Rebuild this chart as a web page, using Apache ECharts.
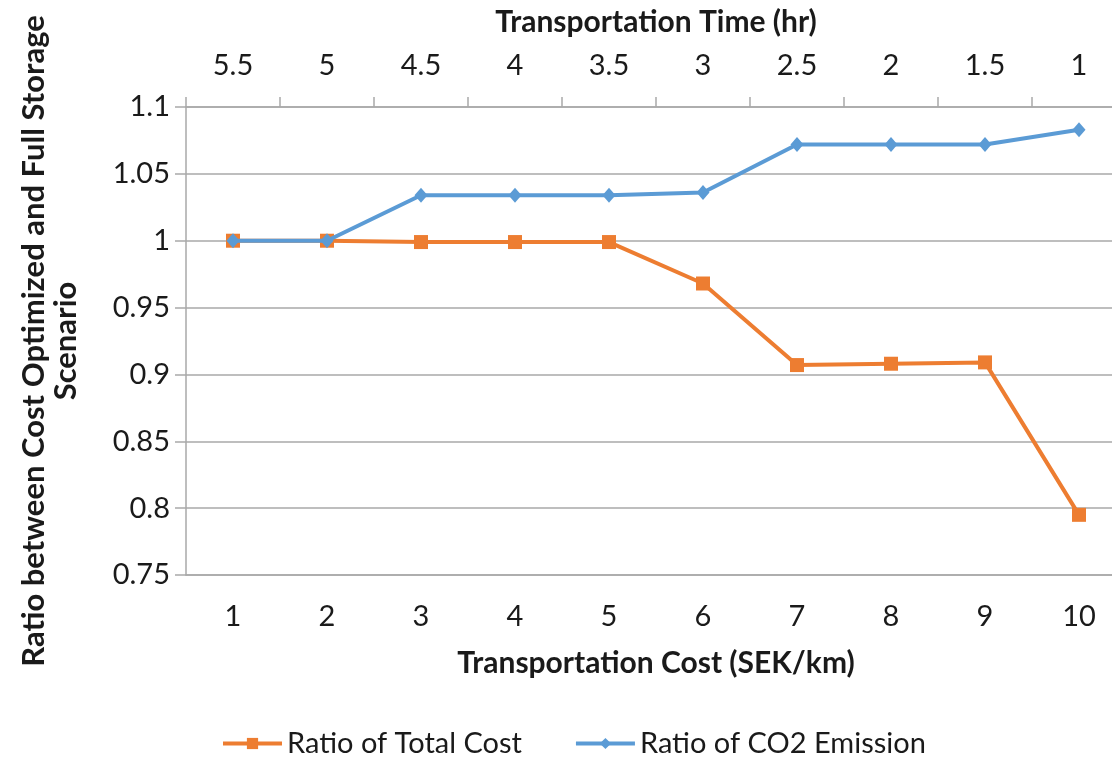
<!DOCTYPE html>
<html>
<head>
<meta charset="utf-8">
<script src="https://cdn.jsdelivr.net/npm/echarts@6/dist/echarts.min.js"></script>
<style>
  html, body { margin: 0; padding: 0; background: #fff; overflow: hidden; }
  #chart { width: 1126px; height: 761px; }
</style>
</head>
<body>
<div id="chart"></div>
<script>
// Transportation cost categories (bottom axis) and matching transport times (top axis)
const costCategories = ['1', '2', '3', '4', '5', '6', '7', '8', '9', '10'];
const timeLabels = ['5.5', '5', '4.5', '4', '3.5', '3', '2.5', '2', '1.5', '1'];

// Ratios between the cost-optimized and the full-storage scenario
const totalCostRatio = [1.000, 1.000, 0.999, 0.999, 0.999, 0.968, 0.907, 0.908, 0.909, 0.795];
const co2EmissionRatio = [1.000, 1.000, 1.034, 1.034, 1.034, 1.036, 1.072, 1.072, 1.072, 1.083];

const FONT = 'Lato';
const TEXT = '#1a1a1a';
const GRID = '#a9a9a9';

const chart = echarts.init(document.getElementById('chart'), null, { renderer: 'canvas' });

chart.setOption({
  animation: false,
  backgroundColor: '#ffffff',
  textStyle: { fontFamily: FONT, color: TEXT },
  // the plot runs a little past the right edge of the visible page
  grid: { left: 186, top: 107, right: 0, height: 468, containLabel: false },
  legend: {
    bottom: -2,
    left: 216,
    itemWidth: 59,
    itemHeight: 14,
    itemGap: 52,
    lineStyle: { width: 4 },
    textStyle: { fontFamily: FONT, fontSize: 29, color: TEXT },
    data: ['Ratio of Total Cost', 'Ratio of CO2 Emission']
  },
  xAxis: [
    {
      type: 'category',
      position: 'bottom',
      data: costCategories,
      boundaryGap: true,
      name: 'Transportation Cost (SEK/km)',
      nameLocation: 'middle',
      nameGap: 73,
      nameTextStyle: { fontFamily: FONT, fontSize: 30, fontWeight: 'bold', color: TEXT },
      axisLine: { show: true, lineStyle: { color: GRID, width: 1.5 } },
      axisTick: { show: false },
      axisLabel: { fontFamily: FONT, fontSize: 29, color: TEXT, margin: 27 },
      splitLine: { show: false }
    },
    {
      type: 'category',
      position: 'top',
      data: timeLabels,
      boundaryGap: true,
      name: 'Transportation Time (hr)',
      nameLocation: 'middle',
      nameGap: 70,
      nameTextStyle: { fontFamily: FONT, fontSize: 30, fontWeight: 'bold', color: TEXT },
      axisLine: { show: true, lineStyle: { color: GRID, width: 1.5 } },
      axisTick: { show: true, inside: false, length: 10, lineStyle: { color: GRID, width: 1.5 } },
      axisLabel: { fontFamily: FONT, fontSize: 29, color: TEXT, margin: 27 },
      splitLine: { show: false }
    }
  ],
  yAxis: {
    type: 'value',
    min: 0.75,
    max: 1.1,
    interval: 0.05,
    name: 'Ratio between Cost Optimized and Full Storage\nScenario',
    nameLocation: 'middle',
    nameRotate: 90,
    nameGap: 104,
    nameTextStyle: { fontFamily: FONT, fontSize: 31, fontWeight: 'bold', color: TEXT, lineHeight: 32 },
    axisLine: { show: true, lineStyle: { color: GRID, width: 1.5 } },
    axisTick: { show: true, inside: false, length: 11, lineStyle: { color: GRID, width: 1.5 } },
    axisLabel: { fontFamily: FONT, fontSize: 29, color: TEXT, margin: 16 },
    splitLine: { show: true, lineStyle: { color: GRID, width: 1.5 } }
  },
  series: [
    {
      name: 'Ratio of Total Cost',
      type: 'line',
      xAxisIndex: 0,
      data: totalCostRatio,
      symbol: 'rect',
      symbolSize: 14,
      lineStyle: { color: '#ED7D31', width: 4 },
      itemStyle: { color: '#ED7D31' },
      z: 3
    },
    {
      name: 'Ratio of CO2 Emission',
      type: 'line',
      xAxisIndex: 0,
      data: co2EmissionRatio,
      symbol: 'diamond',
      symbolSize: [13, 15],
      lineStyle: { color: '#5B9BD5', width: 4 },
      itemStyle: { color: '#5B9BD5' },
      z: 4
    }
  ]
});
</script>
</body>
</html>
